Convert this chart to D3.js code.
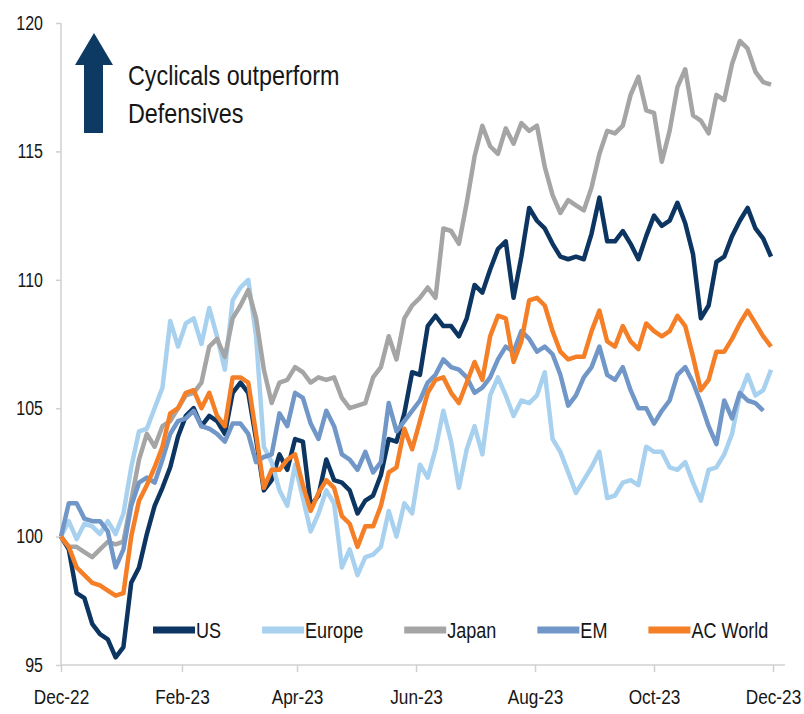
<!DOCTYPE html>
<html>
<head>
<meta charset="utf-8">
<script src="https://cdn.jsdelivr.net/npm/d3@7"></script>
<style>
	body{margin:0;background:#fff;}
	svg text{font-family:"Liberation Sans Narrow","Arial Narrow","Liberation Sans",Arial,sans-serif;fill:#161616;}
</style>
</head>
<body>
<svg id="chart" width="804" height="714"></svg>
<script>
// one point every 4 days, Dec-22 .. Nov-23
var dates = [
	"2022-12-01","2022-12-05","2022-12-09","2022-12-13","2022-12-17","2022-12-21","2022-12-25","2022-12-29",
	"2023-01-02","2023-01-06","2023-01-10","2023-01-14","2023-01-18","2023-01-22","2023-01-26","2023-01-30",
	"2023-02-03","2023-02-07","2023-02-11","2023-02-15","2023-02-19","2023-02-23","2023-02-27",
	"2023-03-03","2023-03-07","2023-03-11","2023-03-15","2023-03-19","2023-03-23","2023-03-27","2023-03-31",
	"2023-04-04","2023-04-08","2023-04-12","2023-04-16","2023-04-20","2023-04-24","2023-04-28",
	"2023-05-02","2023-05-06","2023-05-10","2023-05-14","2023-05-18","2023-05-22","2023-05-26","2023-05-30",
	"2023-06-03","2023-06-07","2023-06-11","2023-06-15","2023-06-19","2023-06-23","2023-06-27",
	"2023-07-01","2023-07-05","2023-07-09","2023-07-13","2023-07-17","2023-07-21","2023-07-25","2023-07-29",
	"2023-08-02","2023-08-06","2023-08-10","2023-08-14","2023-08-18","2023-08-22","2023-08-26","2023-08-30",
	"2023-09-03","2023-09-07","2023-09-11","2023-09-15","2023-09-19","2023-09-23","2023-09-27",
	"2023-10-01","2023-10-05","2023-10-09","2023-10-13","2023-10-17","2023-10-21","2023-10-25","2023-10-29",
	"2023-11-02","2023-11-06","2023-11-10","2023-11-14","2023-11-18","2023-11-22","2023-11-26","2023-11-30"
];

var us = [100.0, 99.5, 97.8, 97.6, 96.6, 96.2, 96.0, 95.3, 95.7, 98.2,
	98.8, 100.1, 101.2, 101.9, 102.7, 103.9, 104.7, 105.0, 104.3, 104.7,
	104.5, 104.0, 105.6, 106.0, 105.6, 103.8, 101.8, 102.2, 103.2, 102.6,
	103.8, 103.7, 101.2, 101.6, 103.0, 102.2, 102.1, 101.8, 100.9, 101.4,
	101.6, 102.4, 103.8, 103.7, 104.8, 106.4, 106.3, 108.2, 108.6, 108.2,
	108.2, 107.8, 108.5, 109.8, 109.5, 110.4, 111.2, 111.5, 109.3, 110.9,
	112.8, 112.3, 112.0, 111.4, 110.9, 110.8, 110.9, 110.8, 111.8, 113.2,
	111.5, 111.5, 111.9, 111.4, 110.8, 111.7, 112.5, 112.1, 112.3, 113.0,
	112.2, 111.0, 108.5, 109.0, 110.7, 110.9, 111.7, 112.3, 112.8, 112.0,
	111.6, 110.9];

var europe = [100.0, 100.6, 99.9, 100.5, 100.4, 100.1, 100.6, 100.1, 100.9, 102.7,
	104.1, 104.2, 105.0, 105.8, 108.4, 107.4, 108.3, 108.5, 107.5, 108.9,
	107.8, 106.5, 109.2, 109.7, 110.0, 107.8, 103.5, 102.9, 101.8, 101.2,
	102.8, 101.5, 100.2, 100.9, 101.8, 101.3, 98.8, 99.5, 98.5, 99.2,
	99.3, 99.6, 101.0, 100.0, 101.3, 100.9, 102.8, 102.3, 103.4, 104.9,
	103.7, 101.9, 103.4, 104.3, 103.2, 105.5, 106.2, 105.5, 104.7, 105.3,
	105.2, 105.5, 106.4, 103.8, 103.3, 102.5, 101.7, 102.2, 102.7, 103.3,
	101.5, 101.6, 102.1, 102.2, 102.0, 103.5, 103.3, 103.3, 102.7, 102.6,
	102.9, 102.1, 101.4, 102.6, 102.7, 103.2, 104.0, 105.5, 106.3, 105.5,
	105.7, 106.5];

var japan = [100.0, 99.6, 99.6, 99.4, 99.2, 99.5, 99.8, 99.7, 99.8, 101.4,
	103.0, 104.0, 103.5, 104.3, 104.5, 105.0, 105.5, 105.6, 106.0, 107.4,
	107.7, 107.0, 108.5, 109.0, 109.6, 108.5, 106.5, 105.2, 106.0, 106.1,
	106.6, 106.4, 106.0, 106.2, 106.1, 106.2, 105.4, 105.0, 105.1, 105.2,
	106.2, 106.6, 107.8, 106.9, 108.5, 109.0, 109.3, 109.7, 109.3, 112.0,
	111.9, 111.4, 113.0, 114.8, 116.0, 115.2, 114.9, 115.9, 115.3, 116.1,
	115.8, 116.0, 114.4, 113.3, 112.6, 113.1, 112.9, 112.7, 113.6, 114.9,
	115.8, 115.7, 116.0, 117.2, 117.9, 116.6, 116.5, 114.6, 115.8, 117.5,
	118.2, 116.4, 116.2, 115.7, 117.2, 117.0, 118.4, 119.3, 119.0, 118.1,
	117.7, 117.6];

var em = [100.0, 101.3, 101.3, 100.7, 100.6, 100.6, 100.2, 98.8, 99.5, 101.2,
	102.1, 102.3, 102.1, 103.0, 104.0, 104.5, 104.6, 104.9, 104.3, 104.2,
	104.0, 103.7, 104.4, 104.4, 104.0, 102.9, 103.1, 103.2, 104.8, 104.3,
	105.6, 105.4, 104.4, 103.8, 104.9, 104.3, 103.2, 103.0, 102.6, 103.3,
	102.5, 102.9, 105.2, 104.1, 104.5, 104.9, 105.3, 106.0, 106.3, 106.9,
	106.6, 106.5, 106.2, 105.6, 105.8, 106.2, 106.9, 107.4, 107.2, 108.0,
	107.7, 107.2, 107.4, 107.1, 106.3, 105.1, 105.5, 106.2, 106.6, 107.4,
	106.3, 106.1, 106.6, 105.7, 105.0, 105.0, 104.4, 104.9, 105.3, 106.3,
	106.6, 106.0, 105.2, 104.3, 103.6, 105.3, 104.6, 105.6, 105.3, 105.2,
	104.9, null];

var acWorld = [100.0, 99.6, 98.8, 98.5, 98.2, 98.1, 97.9, 97.7, 97.8, 100.0,
	101.4, 102.0, 102.7, 103.5, 104.8, 105.0, 105.6, 105.7, 105.0, 105.6,
	104.7, 104.3, 106.2, 106.2, 106.0, 104.0, 101.9, 102.6, 102.6, 103.0,
	103.2, 102.0, 101.0, 101.7, 102.2, 101.9, 100.8, 100.5, 99.6, 100.4,
	100.4, 101.2, 102.5, 102.7, 104.2, 103.4, 104.5, 105.6, 106.1, 106.2,
	105.6, 105.2, 106.0, 106.8, 106.1, 107.8, 108.6, 108.5, 106.8, 107.6,
	109.2, 109.3, 109.0, 108.0, 107.2, 106.9, 107.0, 107.0, 108.0, 108.8,
	107.6, 107.4, 108.2, 107.6, 107.3, 108.3, 108.0, 107.8, 108.0, 108.6,
	108.2, 107.0, 105.7, 106.1, 107.2, 107.2, 107.7, 108.3, 108.8, 108.3,
	107.8, 107.4];

var seriesNames = ["US", "Europe", "Japan", "EM", "AC World"];
var seriesValues = [us, europe, japan, em, acWorld];
var seriesColors = ["#0c3561", "#a8d1ef", "#a5a5a5", "#7097c7", "#f47f26"];

var yTicks = [95, 100, 105, 110, 115, 120];
var xTickDates = ["2022-12-01","2023-02-01","2023-04-01","2023-06-01","2023-08-01","2023-10-01","2023-12-01"];
var xTickLabels = ["Dec-22","Feb-23","Apr-23","Jun-23","Aug-23","Oct-23","Dec-23"];

var parse = d3.timeParse("%Y-%m-%d");
var svg = d3.select("#chart");
// no narrow font installed, so squeeze the regular one
var narrow = "scale(0.82,1)";

var x = d3.scaleTime()
	.domain([parse("2022-12-01"), parse("2023-12-01")])
	.range([61, 773]);
var y = d3.scaleLinear().domain([95, 120]).range([665, 23]);

// axes
var yAxis = d3.axisLeft(y).tickValues(yTicks).tickSize(5).tickSizeOuter(0).tickPadding(17);
var gy = svg.append("g").attr("transform", "translate(61,0)").call(yAxis);

var xAxis = d3.axisBottom(x)
	.tickValues(xTickDates.map(parse))
	.tickFormat(function(d, i){ return xTickLabels[i]; })
	.tickSize(7).tickSizeOuter(0).tickPadding(17);
var gx = svg.append("g").attr("transform", "translate(0,665)").call(xAxis);

gy.select(".domain").remove();
gx.select(".domain").remove();
svg.append("line").attr("x1", 61).attr("x2", 61).attr("y1", y(120)).attr("y2", y(95))
	.attr("stroke", "#d0d0d0").attr("stroke-width", 1.5);
svg.append("line").attr("x1", 61).attr("x2", 785).attr("y1", y(95)).attr("y2", y(95))
	.attr("stroke", "#d0d0d0").attr("stroke-width", 1.5);

svg.selectAll(".tick line").attr("stroke", "#d0d0d0").attr("stroke-width", 1.5);
gy.selectAll(".tick text").style("font-size", "19.5px").attr("transform", narrow);
gx.selectAll(".tick text").style("font-size", "21px").attr("transform", narrow);

// lines
var line = d3.line()
	.defined(function(d){ return d.v != null; })
	.x(function(d){ return x(d.date); })
	.y(function(d){ return y(d.v); });

var rows = seriesValues.map(function(vals){
	return vals.map(function(v, i){ return {date: parse(dates[i]), v: v}; });
});

svg.append("g").selectAll("path")
	.data(rows)
	.enter()
	.append("path")
	.attr("d", line)
	.attr("fill", "none")
	.attr("stroke", function(d, i){ return seriesColors[i]; })
	.attr("stroke-width", 4.5)
	.attr("stroke-linejoin", "round");

// legend
var legend = svg.append("g").attr("transform", "translate(153,630)");
var cx = 0;
seriesNames.forEach(function(name, i){
	legend.append("line")
		.attr("x1", cx).attr("x2", cx + 42).attr("y1", 0).attr("y2", 0)
		.attr("stroke", seriesColors[i]).attr("stroke-width", 7);
	var t = legend.append("g")
		.attr("transform", "translate(" + (cx + 43) + ",0) " + narrow)
		.append("text")
		.attr("dy", "0.35em")
		.style("font-size", "22px")
		.text(name);
	cx = cx + 43 + t.node().getComputedTextLength() * 0.82 + 41;
});

// annotation arrow + text
svg.append("path")
	.attr("d", "M94,33 L113,65 L103,65 L103,133 L84,133 L84,65 L75,65 Z")
	.attr("fill", "#0d3a63");

var note = svg.append("g").attr("transform", "translate(128,85) " + narrow)
	.append("text").style("font-size", "28.5px");
note.append("tspan").attr("x", 0).attr("y", 0).text("Cyclicals outperform");
note.append("tspan").attr("x", 0).attr("y", 38).text("Defensives");
</script>
</body>
</html>
